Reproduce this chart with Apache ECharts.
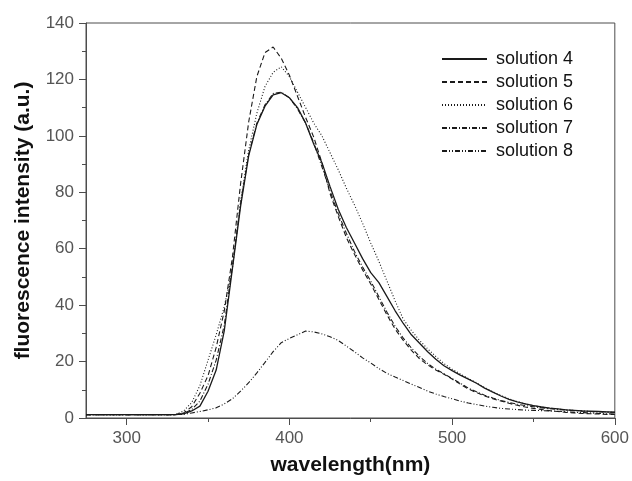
<!DOCTYPE html>
<html>
<head>
<meta charset="utf-8">
<script src="https://cdn.jsdelivr.net/npm/echarts@6/dist/echarts.min.js"></script>
<style>
  html, body { margin: 0; padding: 0; background: #fff; }
  #chart { width: 632px; height: 481px; }
</style>
</head>
<body>
<div id="chart"></div>
<script>
// Emission wavelengths (nm), 5 nm steps
const wavelength = [
  275, 280, 285, 290, 295, 300, 305, 310, 315, 320, 325, 330,
  335, 340, 345, 350, 355, 360, 365, 370, 375, 380, 385, 390,
  395, 400, 405, 410, 415, 420, 425, 430, 435, 440, 445, 450,
  455, 460, 465, 470, 475, 480, 485, 490, 495, 500, 505, 510,
  515, 520, 525, 530, 535, 540, 545, 550, 555, 560, 565, 570,
  575, 580, 585, 590, 595, 600
];

// Fluorescence intensity (a.u.) for each solution
const solution4 = [
  1.2, 1.2, 1.2, 1.2, 1.2, 1.2, 1.2, 1.2, 1.2, 1.2, 1.2, 1.2,
  1.5, 2.5, 4.2, 9.5, 17, 31, 53, 75, 93, 104, 110.5, 114.5,
  115.3, 113.5, 110, 104.5, 97, 90.5, 82, 74, 67.5, 62, 56.5, 51.5,
  48, 43, 38, 33.5, 29.5, 26.5, 23.5, 20.8, 18.5, 16.8, 15.2, 13.8,
  12.3, 10.6, 9.2, 7.8, 6.6, 5.7, 5, 4.4, 3.9, 3.5, 3.2, 2.9,
  2.7, 2.5, 2.4, 2.3, 2.2, 2.1
];
const solution5 = [
  1.2, 1.2, 1.2, 1.2, 1.2, 1.2, 1.2, 1.2, 1.2, 1.2, 1.2, 1.2,
  1.8, 4, 8.8, 15, 25, 38, 57, 83, 105, 121, 129.5, 131.5,
  127.5, 121.5, 114, 106.5, 99.5, 90.5, 79.5, 71.5, 64, 58, 52.5, 47.5,
  42, 36.5, 31.5, 27.5, 24, 21, 18.8, 17, 15.5, 13.8, 12, 10.3,
  9, 7.8, 6.8, 6, 5.2, 4.5, 3.9, 3.4, 3, 2.6, 2.3, 2,
  1.8, 1.6, 1.5, 1.4, 1.3, 1.3
];
const solution6 = [
  1.2, 1.2, 1.2, 1.2, 1.2, 1.2, 1.2, 1.2, 1.2, 1.2, 1.2, 1.2,
  2.5, 5.5, 11.5, 20.5, 29.5, 39.5, 53, 77, 95, 108, 117.5, 122.5,
  124.5, 121, 115.5, 110, 104.5, 100, 94, 88, 81.5, 75.5, 69, 62,
  55.5, 48.5, 41.5, 35, 31, 27.5, 24.5, 21.8, 19.3, 17.3, 15.6, 14,
  12.5, 10.8, 9.3, 8, 6.8, 5.8, 5, 4.4, 3.9, 3.5, 3.2, 2.9,
  2.7, 2.5, 2.3, 2.2, 2.1, 2.0
];
const solution7 = [
  1.2, 1.2, 1.2, 1.2, 1.2, 1.2, 1.2, 1.2, 1.2, 1.2, 1.2, 1.2,
  1.6, 3, 6, 12, 20.5, 33, 54, 76, 93.5, 104.5, 111, 115,
  115.5, 113.5, 109.5, 104.5, 97.5, 89, 80.5, 72.5, 65.5, 59, 53.5, 48.5,
  43, 37.5, 32.5, 28.3, 24.8, 21.8, 19.3, 17.3, 15.7, 14, 12.3, 10.6,
  9.3, 8.1, 7.1, 6.2, 5.5, 4.9, 4.4, 4, 3.6, 3.3, 3, 2.8,
  2.6, 2.4, 2.3, 2.2, 2.1, 2.0
];
const solution8 = [
  1.2, 1.2, 1.2, 1.2, 1.2, 1.2, 1.2, 1.2, 1.2, 1.2, 1.2, 1.2,
  1.3, 1.8, 2.3, 2.9, 3.6, 5, 6.8, 9.5, 12.5, 16, 19.7, 23.5,
  26.7, 28.2, 29.5, 30.8, 30.5, 29.8, 28.8, 27.5, 25.5, 23.5, 21.3, 19.5,
  17.5, 15.8, 14.5, 13.3, 12, 10.8, 9.5, 8.5, 7.6, 6.8, 6, 5.3,
  4.8, 4.2, 3.8, 3.4, 3.2, 3, 2.8, 2.7, 2.6, 2.5, 2.4, 2.2,
  2.0, 1.9, 1.8, 1.6, 1.5, 1.4
];

const seriesNames = ['solution 4', 'solution 5', 'solution 6', 'solution 7', 'solution 8'];
const seriesValues = [solution4, solution5, solution6, solution7, solution8];
const dashTypes = ['solid', [5, 3], [1, 2], [5, 2, 1, 2], [5, 2, 1, 2, 1, 2]];

const xMajorTicks = [300, 400, 500, 600];
const xMinorTicks = [350, 450, 550];

const axisColor = '#4d4d4d';
const labelFont = { color: '#555', fontSize: 17, fontFamily: 'Liberation Sans, Arial, sans-serif' };
const titleFont = { color: '#111', fontSize: 21, fontWeight: 'bold', fontFamily: 'Liberation Sans, Arial, sans-serif' };

const chart = echarts.init(document.getElementById('chart'), null, { renderer: 'canvas' });

chart.setOption({
  animation: false,
  backgroundColor: '#fff',
  grid: {
    left: 86, right: 16, top: 23, bottom: 61,
    show: true, borderColor: axisColor, borderWidth: 1
  },
  legend: {
    orient: 'vertical',
    left: 441, top: 50, padding: 0,
    itemWidth: 45, itemHeight: 14, itemGap: 5,
    data: seriesNames,
    // line-only keys: hide the marker drawn in the middle of each key
    itemStyle: { color: 'rgba(0,0,0,0)', borderColor: 'rgba(0,0,0,0)', borderWidth: 0, opacity: 0 },
    textStyle: { color: '#111', fontSize: 18, fontFamily: 'Liberation Sans, Arial, sans-serif', padding: [0, 0, 0, 4] }
  },
  xAxis: [
    {
      type: 'value', min: 275, max: 600,
      name: 'wavelength(nm)', nameLocation: 'middle', nameGap: 37,
      nameTextStyle: titleFont,
      axisLine: { show: true, lineStyle: { color: axisColor, width: 1 } },
      axisTick: { show: true, inside: false, length: 7, customValues: xMajorTicks, lineStyle: { color: axisColor } },
      axisLabel: { show: true, margin: 12, customValues: xMajorTicks, ...labelFont },
      splitLine: { show: false }
    },
    {
      type: 'value', min: 275, max: 600, position: 'bottom',
      axisLine: { show: false },
      axisTick: { show: true, inside: false, length: 4, customValues: xMinorTicks, lineStyle: { color: axisColor } },
      axisLabel: { show: false },
      splitLine: { show: false }
    }
  ],
  yAxis: {
    type: 'value', min: 0, max: 140, interval: 20,
    name: 'fluorescence intensity (a.u.)', nameLocation: 'middle', nameGap: 52,
    nameTextStyle: titleFont,
    axisLine: { show: true, lineStyle: { color: axisColor, width: 1 } },
    axisTick: { show: true, inside: false, length: 7, lineStyle: { color: axisColor } },
    minorTick: { show: true, splitNumber: 2, length: 4, lineStyle: { color: axisColor } },
    axisLabel: { margin: 12, ...labelFont },
    splitLine: { show: false }
  },
  series: seriesNames.map((name, i) => ({
    name,
    type: 'line',
    xAxisIndex: 0,
    showSymbol: false,
    symbol: 'none',
    smooth: false,
    data: wavelength.map((w, k) => [w, seriesValues[i][k]]),
    lineStyle: { color: '#1a1a1a', width: i === 0 ? 1.3 : 1.1, type: dashTypes[i] },
    itemStyle: { color: '#1a1a1a' }
  }))
});
</script>
</body>
</html>
